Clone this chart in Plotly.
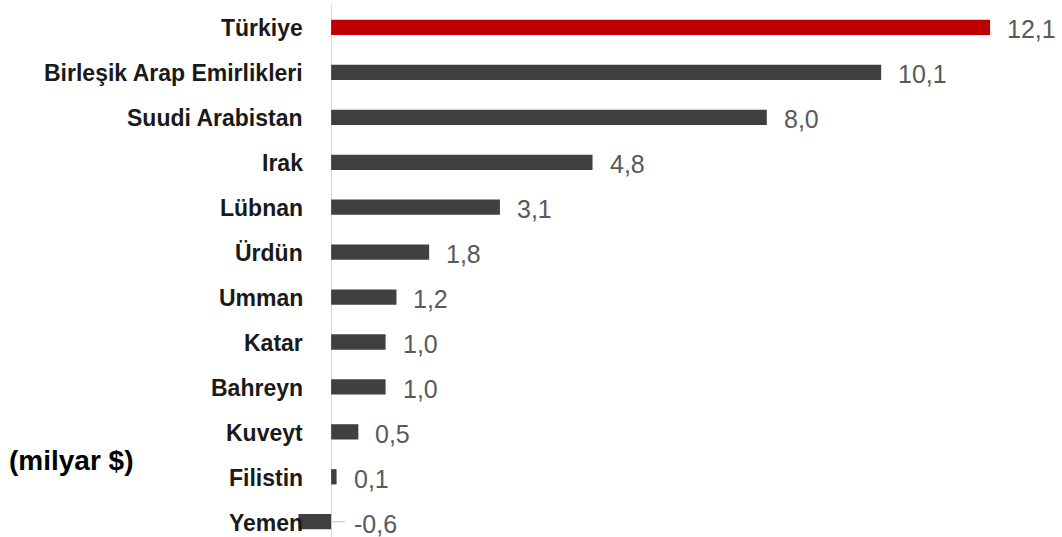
import plotly.graph_objects as go

categories = ["Türkiye", "Birleşik Arap Emirlikleri", "Suudi Arabistan", "Irak", "Lübnan",
              "Ürdün", "Umman", "Katar", "Bahreyn", "Kuveyt", "Filistin", "Yemen"]
values = [12.1, 10.1, 8.0, 4.8, 3.1, 1.8, 1.2, 1.0, 1.0, 0.5, 0.1, -0.6]
unit_label = "(milyar $)"

highlight = "Türkiye"
colors = ["#C00000" if c == highlight else "#404040" for c in categories]

fig = go.Figure()
fig.add_trace(go.Bar(
    x=values, y=categories, orientation="h",
    marker=dict(color=colors, line=dict(width=0)),
    width=0.34, hoverinfo="skip",
))

annotations = []
for c, v in zip(categories, values):
    # category label, right-aligned next to the zero axis
    annotations.append(dict(
        x=0, y=c, xref="x", yref="y", text=c, showarrow=False,
        xanchor="right", yanchor="middle", xshift=-26, yshift=-1,
        font=dict(family="Liberation Sans", size=23, color="#1a1a1a", weight="bold"),
    ))
    # value label
    annotations.append(dict(
        x=max(v, 0), y=c, xref="x", yref="y",
        text=f"{v:.1f}".replace(".", ","), showarrow=False,
        xanchor="left", yanchor="middle", xshift=(21 if v < 0 else 15), yshift=-2,
        font=dict(family="Liberation Sans", size=25, color="#595959"),
    ))

annotations.append(dict(
    x=0.0, y=categories[10], xref="paper", yref="y", text=unit_label, showarrow=False,
    xanchor="left", yanchor="middle", xshift=-286, yshift=16,
    font=dict(family="Liberation Sans", size=28, color="#000000", weight="bold"),
))

shapes = []
for c, v in zip(categories, values):
    if v < 0:
        shapes.append(dict(type="line", xref="x", yref="y", x0=0, x1=0.25, y0=c, y1=c,
                           line=dict(color="#bfbfbf", width=1)))

fig.update_layout(
    width=1062, height=537,
    margin=dict(l=293, r=12, t=5, b=0),
    paper_bgcolor="white", plot_bgcolor="white",
    showlegend=False,
    annotations=annotations,
    shapes=shapes,
    xaxis=dict(range=[-0.7, 13.2], showgrid=False, showticklabels=False, ticks="",
               zeroline=True, zerolinecolor="#d9d9d9", zerolinewidth=1, showline=False),
    yaxis=dict(categoryorder="array", categoryarray=categories, range=[11.34, -0.5],
               showticklabels=False, showgrid=False, ticks="", showline=False, zeroline=False),
)

fig.write_html("out.html",
               config={"displayModeBar": False},
               post_script="document.body.style.margin='0';document.body.style.overflow='hidden';")
